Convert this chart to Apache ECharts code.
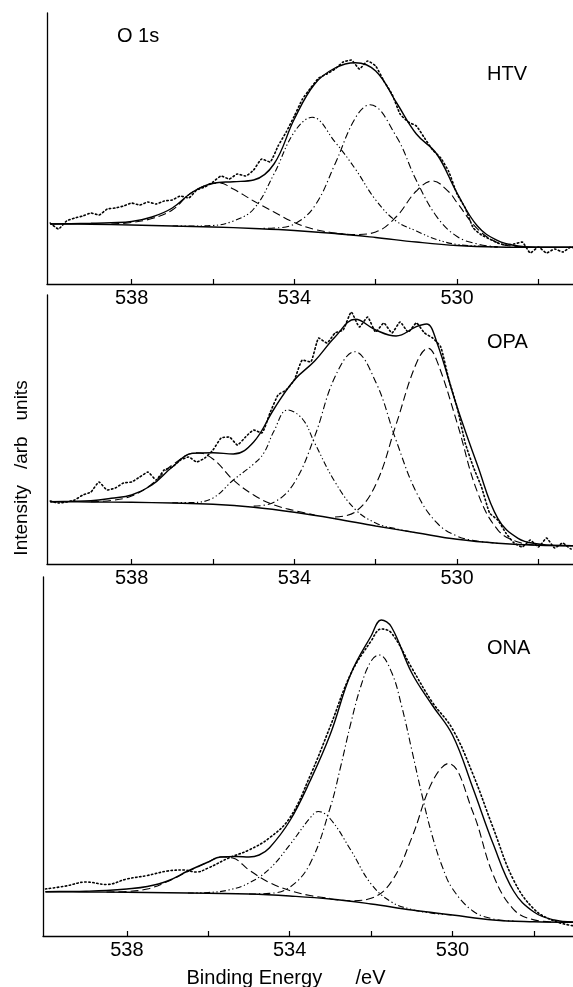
<!DOCTYPE html>
<html><head><meta charset="utf-8">
<script src="https://cdn.jsdelivr.net/npm/echarts@6/dist/echarts.min.js"></script>
<style>html,body{margin:0;padding:0;background:#fff}#c{width:573px;height:987px}</style>
</head><body><div id="c"></div>
<script>
// ---------- tick / label values ----------
const tickValues = [528, 530, 532, 534, 536, 538];
const labelValues = [530, 534, 538];
const panelNames = ['HTV', 'OPA', 'ONA'];
const xTitle = 'Binding Energy      /eV';
const yTitle = 'Intensity   /arb   units';
const coreLevel = 'O 1s';

// ---------- HTV (panel 1): [binding energy eV, intensity arb] ----------
const htvBackground = [[540,60],[539,59.7],[538,59],[537,58],[536,57],[535,55.5],[534,53.5],[533,50.5],[532,46.5],[531,42],[530,38.5],[529,37],[528,36.7],[527,36.7]];
const htvFit = [[540,60],[539.5,60.3],[539,60.7],[538.5,61.3],[538,62.5],[537.5,67],[537,76],[536.5,92],[536,100.7],[535.5,102.3],[535,104],[534.5,120],[534,165],[533.5,200],[533,216],[532.5,221.3],[532,213],[531.5,182],[531,150],[530.5,130],[530,91],[529.5,58],[529,43.3],[528.5,38],[528,36.7],[527.5,36.7],[527,36.7]];
const htvPeakA = [[538.5,60],[538,61.5],[537.5,65.5],[537,74],[536.5,92],[535.85,101],[535.5,95],[535,83],[534.5,72],[534,61.5],[533.5,54.5],[533,51],[532.5,48.5]];
const htvPeakB = [[537,58.2],[536.5,58],[536,58.5],[535.5,63],[535,75],[534.5,110],[534,152],[533.56,166.7],[533,142],[532.5,115],[532,84],[531.5,63],[531,53],[530.5,44.5],[530,39.5],[529.5,38],[529,37]];
const htvPeakC = [[535,55.5],[534.5,56],[534,60],[533.5,78],[533,120],[532.5,166],[532.14,179.3],[531.5,148],[531,103.5],[530.5,67.4],[530,47.5],[529.5,40],[529,37]];
const htvPeakD = [[533,50.6],[532.5,49.5],[532,52],[531.5,67],[531,93],[530.6,103],[530.2,92],[530,81.3],[529.5,55.2],[529,41.2],[528.5,37.4],[528,36.7]];
const htvData = [[540,61],[539.8,55],[539.6,63],[539.4,66],[539.2,68],[539,71],[538.8,69],[538.6,75],[538.4,76],[538.2,78],[538,81],[537.8,79],[537.6,82],[537.4,80],[537.2,83],[537,84],[536.8,88],[536.6,86],[536.4,94],[536.2,97],[536,102],[535.8,108],[535.6,105],[535.4,110],[535.2,108],[535,114],[534.8,125],[534.6,122],[534.4,138],[534.2,152],[534,168],[533.8,185],[533.6,196],[533.4,206],[533.2,210],[533,215],[532.8,222],[532.6,224],[532.4,215],[532.2,223],[532,218],[531.8,203],[531.6,190],[531.4,170],[531.2,162],[531,158],[530.8,146],[530.6,134],[530.4,126],[530.2,112],[530,90],[529.8,76],[529.6,56],[529.4,49],[529.2,45],[529,41],[528.8,39],[528.6,40],[528.4,42],[528.2,31],[528,37],[527.8,31],[527.6,35],[527.4,32],[527.2,37],[527,34]];

// ---------- OPA (panel 2) ----------
const opaBackground = [[540,62.3],[539,62],[538,61.7],[537,61],[536,59.7],[535,56.7],[534,51.7],[533,45.3],[532,38],[531,31.3],[530,24.7],[529,20.7],[528,18.7],[527,18.3]];
const opaFit = [[540,62.3],[539.5,62.7],[539,63.3],[538.5,65.7],[538,69],[537.5,79],[537,97],[536.5,110.7],[536,111.3],[535.5,110],[535,122],[534.5,155],[534,184],[533.5,203],[533,227],[532.5,244.7],[532,234],[531.5,228],[531,237.3],[530.75,240],[530.5,222],[530,157],[529.5,99],[529,45.7],[528.5,25.7],[528,20],[527.5,18.5],[527,18.3]];
const opaPeakA = [[539,62.3],[538.5,63.5],[538,68],[537.5,80],[537,99],[536.4,111.3],[536,105],[535.5,84],[535,69],[534.5,59],[534,53.5],[533.5,49]];
const opaPeakB = [[537,61.3],[536.5,61.5],[536,66],[535.5,84],[535,100],[534.75,111],[534.5,133],[534.17,154],[533.8,145],[533.5,121],[533,82],[532.5,54.5],[532,41],[531.5,35.2],[531,31.3]];
const opaPeakC = [[535,57.9],[534.5,61.7],[534,81.3],[533.5,127.6],[533,187.2],[532.52,212.3],[532,182.1],[531.5,123.8],[531,71.6],[530.5,41.3],[530,27.9],[529.5,23],[529,20.7]];
const opaPeakD = [[533,47],[532.5,52.1],[532,79.3],[531.5,139.4],[531,200.8],[530.71,215.7],[530.5,203.6],[530,141.3],[529.5,72],[529,34.2],[528.5,21.9],[528,18.7]];
const opaData = [[540,63],[539.8,61],[539.6,62],[539.4,64],[539.2,69],[539,72],[538.8,82],[538.6,74],[538.4,76],[538.2,81],[538,82],[537.8,87],[537.6,92],[537.4,84],[537.2,94],[537,97],[536.8,104],[536.6,107],[536.4,102],[536.2,106],[536,114],[535.8,126],[535.6,127],[535.4,119],[535.2,127],[535,134],[534.8,131],[534.6,151],[534.4,169],[534.2,174],[534,184],[533.8,204],[533.6,202],[533.4,226],[533.2,221],[533,231],[532.8,234],[532.6,252],[532.4,237],[532.2,247],[532,232],[531.8,241],[531.6,231],[531.4,242],[531.2,232],[531,241],[530.8,231],[530.6,226],[530.4,217],[530.2,184],[530,157],[529.8,121],[529.6,97],[529.4,77],[529.2,51],[529,44],[528.8,31],[528.6,21],[528.4,17],[528.2,24],[528,17],[527.8,26],[527.6,16],[527.4,21],[527.2,15],[527,19]];

// ---------- ONA (panel 3) ----------
const onaBackground = [[540,44.3],[539,44],[538,43.7],[537,43.3],[536,42.7],[535,42],[534,40],[533,37],[532,32],[531,26],[530,21],[529,16],[528,14.3],[527,13.7]];
const onaFit = [[540,44.3],[539.5,44.5],[539,44.8],[538.5,45.5],[538,47],[537.5,49.5],[537,55],[536.5,65],[536,74],[535.7,79],[535.3,79.5],[535,79],[534.75,81],[534.5,88],[534,115],[533.5,155],[533,202],[532.5,262],[532,300],[531.75,316],[531.5,309],[531,263],[530.5,231],[530,201],[529.5,148],[529,92],[528.5,45],[528,24],[527.5,16],[527,14]];
const onaPeakA = [[538.5,44],[538,44.5],[537.5,47],[537,54.5],[536.5,64.5],[536,74],[535.7,79],[535.4,78],[535,66],[534.5,53.5],[534,45.5],[533.5,40.5],[533,37.5]];
const onaPeakB = [[536.5,43],[536,43.5],[535.5,46],[535,53],[534.5,67],[534,91],[533.5,118],[533.3,124.5],[533,117],[532.5,86],[532,52],[531.5,34],[531,26.5],[530.5,22.8],[530,21]];
const onaPeakC = [[535,42],[534.5,42.6],[534,48.7],[533.5,72.3],[533,129],[532.75,169],[532.5,212.5],[532.25,250],[532,275],[531.8,281],[531.5,264],[531.25,230],[531,186],[530.75,141],[530.5,100.5],[530.25,69.3],[530,47.3],[529.5,25],[529,17],[528.5,15]];
const onaPeakD = [[533,37],[532.5,35.3],[532,37.7],[531.5,54.4],[531,98.3],[530.5,154],[530.1,172.5],[529.5,124],[529,61],[528.5,26.6],[528,16.1],[527.5,14]];
const onaData = [[540,47],[539.5,50],[539,54],[538.5,51.5],[538,57],[537.5,60.5],[537,65],[536.6,66],[536.3,64],[536,68],[535.5,78],[535,86],[534.5,98],[534,118],[533.5,160],[533,210],[532.5,262],[532,295],[531.75,307],[531.5,303],[531,268],[530.5,234],[530,207],[529.5,162],[529,108],[528.5,56],[528,27],[527.5,15],[527,10]];

// ---------- layout (pixels) ----------
const FONT = '"Liberation Sans", Arial, Helvetica, sans-serif';
const panels = [
  {left: 47, top: 13, height: 271, xmin: 527.15, xmax: 540.08,
   sets: [htvData, htvFit, htvBackground, htvPeakA, htvPeakB, htvPeakC, htvPeakD]},
  {left: 47, top: 295, height: 269, xmin: 527.15, xmax: 540.08,
   sets: [opaData, opaFit, opaBackground, opaPeakA, opaPeakB, opaPeakC, opaPeakD]},
  {left: 43, top: 577, height: 359, xmin: 527.04, xmax: 540.06,
   sets: [onaData, onaFit, onaBackground, onaPeakA, onaPeakB, onaPeakC, onaPeakD]}
];
const styles = [
  {type: [1.4, 2.6], width: 1.6, cap: 'round'}, // raw data (dotted)
  {type: 'solid', width: 1.4},                   // fit envelope
  {type: 'solid', width: 1.4},                   // background
  {type: [8, 4], width: 1.1},                    // peak A (dash)
  {type: [6, 2.5, 1.3, 2.5, 1.3, 2.5], width: 1.1}, // peak B (dash-dot-dot)
  {type: [7, 3, 1.3, 3], width: 1.1},            // peak C (dash-dot)
  {type: [8, 4], width: 1.1}                     // peak D (dash)
];

const grid = [], xAxis = [], yAxis = [], series = [];
panels.forEach((p, i) => {
  grid.push({left: p.left, right: 0, top: p.top, height: p.height});
  xAxis.push({
    gridIndex: i, type: 'value', inverse: true, min: p.xmin, max: p.xmax,
    axisLine: {show: true, onZero: false, lineStyle: {color: '#000', width: 1.3}},
    axisTick: {show: true, inside: true, length: 5, customValues: tickValues, lineStyle: {color: '#000', width: 1.2}},
    axisLabel: {show: true, customValues: labelValues, color: '#000', fontSize: 20, fontFamily: FONT, margin: 4},
    splitLine: {show: false}
  });
  yAxis.push({
    gridIndex: i, type: 'value', min: 0, max: p.height,
    axisLine: {show: true, lineStyle: {color: '#000', width: 1.3}},
    axisTick: {show: false}, axisLabel: {show: false}, splitLine: {show: false}
  });
  p.sets.forEach((d, k) => {
    series.push({
      type: 'line', xAxisIndex: i, yAxisIndex: i, data: d,
      showSymbol: false, smooth: k === 0 && i < 2 ? 0.15 : 0.4,
      lineStyle: Object.assign({color: '#000'}, styles[k]),
      silent: true, z: k === 1 ? 3 : 2
    });
  });
});

const txt = (text, x, y, extra) => Object.assign({
  type: 'text', x: x, y: y, silent: true,
  style: {text: text, font: '20px ' + FONT, fill: '#000', textAlign: 'left', textVerticalAlign: 'middle'}
}, extra || {});

const graphic = [
  txt(coreLevel, 117, 36),
  txt(panelNames[0], 487, 74),
  txt(panelNames[1], 487, 342),
  txt(panelNames[2], 487, 648),
  {type: 'text', x: 22, y: 468, rotation: Math.PI / 2, silent: true,
   style: {text: yTitle, font: '19px ' + FONT, fill: '#000', textAlign: 'center', textVerticalAlign: 'middle'}},
  {type: 'text', x: 286, y: 978, silent: true,
   style: {text: xTitle, font: '20px ' + FONT, fill: '#000', textAlign: 'center', textVerticalAlign: 'middle'}}
];

const chart = echarts.init(document.getElementById('c'), null, {renderer: 'canvas'});
chart.setOption({animation: false, backgroundColor: '#fff', grid, xAxis, yAxis, series, graphic});
</script></body></html>
